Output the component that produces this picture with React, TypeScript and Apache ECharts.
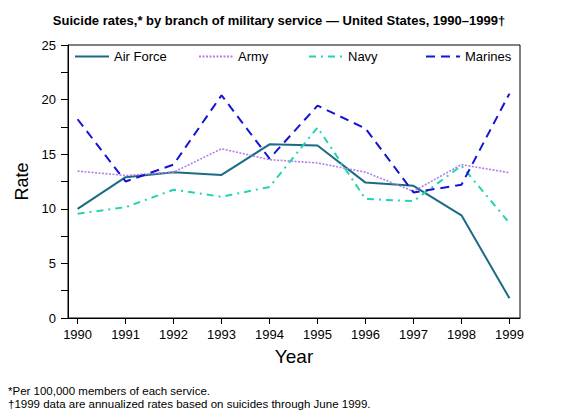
import React, { useEffect, useRef } from "react";
import * as echarts from "echarts";

const years = [1990, 1991, 1992, 1993, 1994, 1995, 1996, 1997, 1998, 1999];
const airForce = [10.0, 12.9, 13.35, 13.1, 15.9, 15.8, 12.4, 12.1, 9.4, 1.8];
const army = [13.45, 13.05, 13.35, 15.5, 14.5, 14.2, 13.35, 11.6, 14.05, 13.3];
const navy = [9.55, 10.15, 11.75, 11.1, 12.0, 17.45, 10.9, 10.7, 13.95, 8.7];
const marines = [18.2, 12.5, 14.05, 20.4, 14.6, 19.45, 17.35, 11.5, 12.2, 20.55];
const yTicks = [0, 5, 10, 15, 20, 25];

const FONT = "'Liberation Sans', Arial, sans-serif";

export default function App() {
  const ref = useRef<HTMLDivElement>(null);
  useEffect(() => {
    document.body.style.margin = "0";
    const chart = echarts.init(ref.current!, null, { renderer: "svg" });
    const pair = (vals: number[]) => years.map((y, i) => [y, vals[i]]);
    const seriesDefs = [
      { name: "Air Force", data: airForce, color: "#1b6a86", type: "solid", width: 2 },
      { name: "Army", data: army, color: "#b07ee8", type: [2, 1.5], width: 1.6 },
      { name: "Navy", data: navy, color: "#22d4b0", type: [7, 5, 2, 5], width: 2 },
      { name: "Marines", data: marines, color: "#1414d8", type: [9, 6], width: 2 },
    ];
    const legendLefts = [74, 198, 308, 425];
    chart.setOption({
      animation: false,
      textStyle: { fontFamily: FONT },
      title: {
        text: "Suicide rates,* by branch of military service — United States, 1990–1999†",
        left: 274,
        top: 9,
        textAlign: "center",
        textStyle: { fontSize: 13, fontWeight: "bold", color: "#000", fontFamily: FONT },
      },
      legend: seriesDefs.map((s, i) => ({
        data: [s.name],
        left: legendLefts[i],
        top: 50,
        padding: 0,
        itemWidth: 34,
        itemHeight: 14,
        itemStyle: { opacity: 0, borderWidth: 0 },
        textStyle: { fontSize: 13, color: "#000", fontFamily: FONT },
      })),
      grid: {
        left: 68,
        top: 45,
        width: 452,
        height: 273,
        show: true,
        borderColor: "#000",
        borderWidth: 1,
        backgroundColor: "transparent",
      },
      xAxis: {
        type: "value",
        min: 1989.8,
        max: 1999.22,
        splitLine: { show: false },
        axisLine: { show: true, lineStyle: { color: "#000", width: 1 } },
        axisTick: { show: true, length: 6, lineStyle: { color: "#000" }, customValues: years },
        axisLabel: {
          customValues: years,
          fontSize: 13,
          color: "#000",
          margin: 10,
          fontFamily: FONT,
          formatter: (v: number) => String(v),
        },
        name: "Year",
        nameLocation: "middle",
        nameGap: 29,
        nameTextStyle: { fontSize: 19, color: "#000", fontFamily: FONT },
      },
      yAxis: {
        type: "value",
        min: 0,
        max: 25,
        interval: 5,
        splitLine: { show: false },
        axisLine: { show: true, lineStyle: { color: "#000", width: 1 } },
        axisTick: { show: true, length: 7, lineStyle: { color: "#000" }, customValues: yTicks },
        minorTick: { show: true, splitNumber: 2, length: 7, lineStyle: { color: "#000" } },
        axisLabel: { fontSize: 13, color: "#000", margin: 12, fontFamily: FONT },
        name: "Rate",
        nameLocation: "middle",
        nameGap: 34,
        nameTextStyle: { fontSize: 18, color: "#000", fontFamily: FONT },
      },
      series: seriesDefs.map((s) => ({
        name: s.name,
        type: "line",
        data: pair(s.data),
        symbol: "none",
        color: s.color,
        lineStyle: { color: s.color, width: s.width, type: s.type },
      })),
      graphic: [
        {
          type: "text",
          left: 8,
          top: 385,
          style: {
            text: "*Per 100,000 members of each service.",
            fontSize: 11.5,
            fill: "#000",
            fontFamily: FONT,
          },
        },
        {
          type: "text",
          left: 8,
          top: 398,
          style: {
            text: "†1999 data are annualized rates based on suicides through June 1999.",
            fontSize: 11.5,
            fill: "#000",
            fontFamily: FONT,
          },
        },
      ],
    });
    return () => chart.dispose();
  }, []);
  return <div ref={ref} style={{ width: 563, height: 420 }} />;
}
